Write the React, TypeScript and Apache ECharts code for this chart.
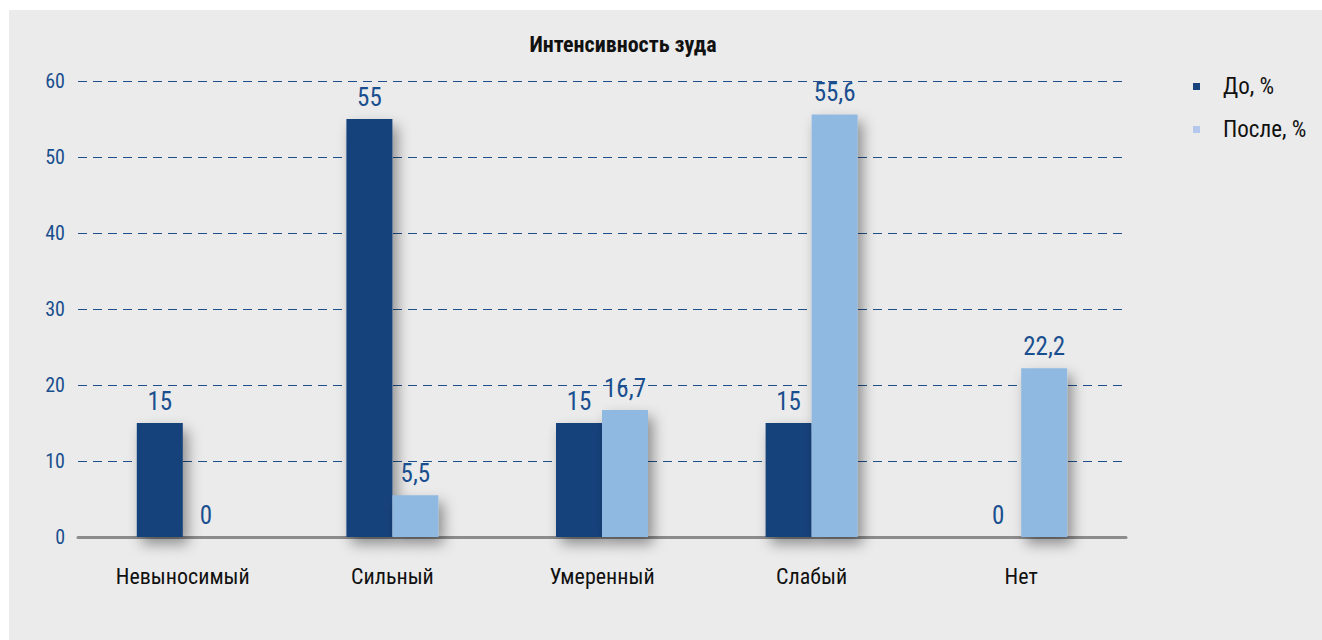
import React, { useEffect, useRef } from "react";
import * as echarts from "echarts";

const categories = ["Невыносимый", "Сильный", "Умеренный", "Слабый", "Нет"];
const seriesNames = ["До, %", "После, %"];
const beforeValues = [15, 55, 15, 15, 0];
const afterValues = [0, 5.5, 16.7, 55.6, 22.2];
const yTicks = { min: 0, max: 60, interval: 10 };
const title = "Интенсивность зуда";

const FONT = "'Roboto Condensed', 'Liberation Sans', sans-serif";
const DARK = "#17427c";
const LIGHT = "#8fb9e1";
const BLUE_TEXT = "#1a4f8f";

export default function App() {
  const ref = useRef<HTMLDivElement>(null);
  useEffect(() => {
    if (!ref.current) return;
    const chart = echarts.init(ref.current, null, { renderer: "svg" });
    const fmt = (p: any) => String(p.value).replace(".", ",");
    const barStyle = (color: string) => ({
      color,
      shadowColor: "rgba(0,0,0,0.4)",
      shadowBlur: 14,
      shadowOffsetX: 5,
      shadowOffsetY: 7,
    });
    const label = {
      show: true,
      position: "top",
      distance: 9,
      formatter: fmt,
      fontFamily: FONT,
      fontSize: 25,
      color: BLUE_TEXT,
    };
    chart.setOption({
      animation: false,
      backgroundColor: "#ffffff",
      textStyle: { fontFamily: FONT },
      graphic: [
        {
          type: "rect",
          z: -10,
          silent: true,
          shape: { x: 9, y: 10, width: 1313, height: 630 },
          style: { fill: "#ebebeb" },
        },
      ],
      title: {
        text: title,
        left: 618,
        top: 28,
        textAlign: "center",
        textStyle: { fontFamily: FONT, fontSize: 22, fontWeight: "bold", color: "#111" },
      },
      legend: {
        orient: "vertical",
        left: 1188,
        top: 70,
        itemWidth: 7,
        itemHeight: 7,
        itemGap: 20,
        icon: "rect",
        textStyle: { fontFamily: FONT, fontSize: 23, color: "#111", padding: [0, 0, 0, 18] },
        data: [
          { name: seriesNames[0], itemStyle: { color: DARK, shadowBlur: 0, shadowOffsetX: 0, shadowOffsetY: 0 } },
          { name: seriesNames[1], itemStyle: { color: "#b3c8ec", shadowBlur: 0, shadowOffsetX: 0, shadowOffsetY: 0 } },
        ],
      },
      grid: { left: 78, top: 81, width: 1048, height: 456, containLabel: false },
      xAxis: {
        type: "category",
        data: categories,
        axisLine: { show: true, lineStyle: { color: "#8c8c8c", width: 3 } },
        axisTick: { show: false },
        axisLabel: { fontFamily: FONT, fontSize: 22, color: "#111", margin: 28 },
      },
      yAxis: {
        type: "value",
        min: yTicks.min,
        max: yTicks.max,
        interval: yTicks.interval,
        axisLine: { show: false },
        axisTick: { show: false },
        axisLabel: { fontFamily: FONT, fontSize: 20, color: BLUE_TEXT, margin: 13 },
        splitLine: { lineStyle: { color: "#1f4f8a", type: [9, 6], width: 1 } },
      },
      series: [
        {
          name: seriesNames[0],
          type: "bar",
          data: beforeValues,
          barWidth: 46,
          barGap: "0%",
          itemStyle: barStyle(DARK),
          label,
        },
        {
          name: seriesNames[1],
          type: "bar",
          data: afterValues,
          barWidth: 46,
          barGap: "0%",
          itemStyle: barStyle(LIGHT),
          label,
        },
      ],
    });
    return () => chart.dispose();
  }, []);
  return (
    <div
      ref={ref}
      style={{ position: "absolute", left: 0, top: 0, width: 1322, height: 640 }}
    />
  );
}
